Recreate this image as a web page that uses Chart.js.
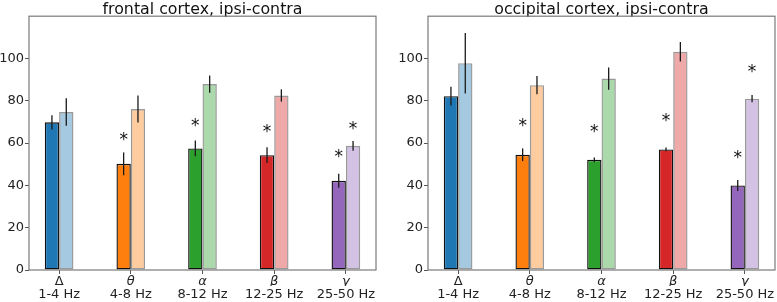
<!DOCTYPE html>
<html><head><meta charset="utf-8">
<script src="https://cdn.jsdelivr.net/npm/chart.js@4"></script>
<style>
body{margin:0;background:#fff;width:777px;height:302px;overflow:hidden;position:relative}
canvas{position:absolute;top:0}
</style></head>
<body>
<canvas id="c1" width="385" height="302" style="left:0"></canvas>
<canvas id="c2" width="392" height="302" style="left:385px"></canvas>
<script>
// ---- data ----
const greek = ['Δ', 'θ', 'α', 'β', 'γ'];
const bands = ['1-4 Hz', '4-8 Hz', '8-12 Hz', '12-25 Hz', '25-50 Hz'];
const xPositions = [0, 1, 2, 3, 4];
const yTicks = [0, 20, 40, 60, 80, 100];

const frontalIpsi = [69.8, 50.2, 57.5, 54.3, 42.2];
const frontalIpsiErr = [3.4, 5.4, 3.7, 3.7, 3.3];
const frontalContra = [74.7, 76.1, 87.9, 82.5, 58.7];
const frontalContraErr = [6.5, 6.4, 4.1, 2.9, 2.3];
const frontalStarIpsi = [null, 63.1, 69.9, 66.9, 55.0];
const frontalStarContra = [null, null, null, null, 68.2];

const occipitalIpsi = [82.2, 54.5, 52.1, 57.0, 40.0];
const occipitalIpsiErr = [4.4, 3.0, 1.1, 0.9, 2.6];
const occipitalContra = [97.8, 87.4, 90.5, 103.2, 81.0];
const occipitalContraErr = [14.3, 4.3, 5.3, 4.6, 1.7];
const occipitalStarIpsi = [null, 69.6, 66.9, 72.1, 54.8];
const occipitalStarContra = [null, null, null, null, 95.1];

const colors = ['#1f77b4', '#ff7f0e', '#2ca02c', '#d62728', '#9467bd'];

// ---- helpers ----
function rgba(hex, a) {
  const n = parseInt(hex.slice(1), 16);
  return `rgba(${(n >> 16) & 255},${(n >> 8) & 255},${n & 255},${a})`;
}
const FONT = 'DejaVu Sans';

const extrasPlugin = {
  id: 'extras',
  afterDatasetsDraw(chart, args, opts) {
    const ctx = chart.ctx;
    const y = chart.scales.y;
    ctx.save();
    // error bars
    chart.data.datasets.forEach((ds, di) => {
      const meta = chart.getDatasetMeta(di);
      const errs = opts.errs[di];
      meta.data.forEach((el, i) => {
        const v = ds.data[i].y;
        const e = errs[i];
        ctx.beginPath();
        ctx.strokeStyle = '#1a1a1a';
        ctx.lineWidth = 1.3;
        ctx.moveTo(el.x, y.getPixelForValue(v + e));
        ctx.lineTo(el.x, y.getPixelForValue(v - e));
        ctx.stroke();
      });
    });
    // significance stars
    ctx.font = `17px "${FONT}"`;
    ctx.fillStyle = '#111';
    ctx.textAlign = 'center';
    ctx.textBaseline = 'alphabetic';
    const m = ctx.measureText('*');
    const off = (m.actualBoundingBoxAscent - m.actualBoundingBoxDescent) / 2;
    chart.data.datasets.forEach((ds, di) => {
      const meta = chart.getDatasetMeta(di);
      const stars = opts.stars[di];
      meta.data.forEach((el, i) => {
        if (stars[i] == null) return;
        ctx.fillText('*', el.x, y.getPixelForValue(stars[i]) + off);
      });
    });
    // frame
    const a = chart.chartArea;
    ctx.strokeStyle = '#7a7a7a';
    ctx.lineWidth = 1.2;
    ctx.strokeRect(a.left, a.top, a.right - a.left, a.bottom - a.top);
    ctx.restore();
  }
};

function makeChart(id, title, ipsi, ipsiErr, contra, contraErr, starI, starC, yWidth, padRight) {
  const tickFix = s => { s.ticks = xPositions.map(v => ({ value: v })); };
  return new Chart(document.getElementById(id), {
    type: 'bar',
    data: {
      datasets: [
        {
          data: xPositions.map((x, i) => ({ x, y: ipsi[i] })),
          backgroundColor: colors,
          borderColor: '#111',
          borderWidth: 1.4,
          borderSkipped: false,
          categoryPercentage: 0.4,
          barPercentage: 1.0,
          xAxisID: 'x'
        },
        {
          data: xPositions.map((x, i) => ({ x, y: contra[i] })),
          backgroundColor: colors.map(c => rgba(c, 0.4)),
          borderColor: 'rgba(0,0,0,0.4)',
          borderWidth: 1.4,
          borderSkipped: false,
          categoryPercentage: 0.4,
          barPercentage: 1.0,
          xAxisID: 'x'
        }
      ]
    },
    options: {
      responsive: false,
      animation: false,
      layout: { padding: { left: 0, right: padRight, top: 0, bottom: 0 } },
      plugins: {
        legend: { display: false },
        tooltip: { enabled: false },
        title: {
          display: true, text: title, fullSize: false,
          color: '#111',
          font: { family: FONT, size: 15.8, weight: 'normal', lineHeight: 13 / 15.8 },
          padding: { top: 3.2, bottom: 0 }
        },
        extras: { errs: [ipsiErr, contraErr], stars: [starI, starC] }
      },
      scales: {
        x: {
          type: 'linear', position: 'bottom', min: -0.42, max: 4.42, offset: false,
          afterBuildTicks: tickFix,
          afterFit: s => { s.height = 16; },
          grid: { display: true, drawOnChartArea: false, drawTicks: true, tickLength: 4, color: '#555', lineWidth: 1, offset: false },
          border: { display: false },
          ticks: {
            autoSkip: false, maxRotation: 0, padding: 0, color: '#222',
            callback: (v, i) => greek[i],
            font: ctx => ({ family: FONT, size: 13, style: ctx.index === 0 ? 'normal' : 'italic', lineHeight: 1.15 })
          }
        },
        xHz: {
          type: 'linear', position: 'bottom', min: -0.42, max: 4.42, offset: false,
          afterBuildTicks: tickFix,
          afterFit: s => { s.height = 16; },
          grid: { display: false, drawTicks: false, tickLength: 0 },
          border: { display: false },
          ticks: {
            autoSkip: false, maxRotation: 0, padding: 1.5, color: '#222',
            callback: (v, i) => bands[i],
            font: { family: FONT, size: 13, lineHeight: 1.15 }
          }
        },
        y: {
          min: 0, max: 120,
          afterBuildTicks: s => { s.ticks = yTicks.map(v => ({ value: v })); },
          afterFit: s => { s.width = yWidth; },
          grid: { display: true, drawOnChartArea: false, drawTicks: true, tickLength: 4, color: '#555' },
          border: { display: false },
          ticks: { padding: 1, color: '#222', font: { family: FONT, size: 13 } }
        }
      }
    },
    plugins: [extrasPlugin]
  });
}

makeChart('c1', 'frontal cortex, ipsi-contra', frontalIpsi, frontalIpsiErr, frontalContra, frontalContraErr,
  frontalStarIpsi, frontalStarContra, 29, 9);
makeChart('c2', 'occipital cortex, ipsi-contra', occipitalIpsi, occipitalIpsiErr, occipitalContra, occipitalContraErr,
  occipitalStarIpsi, occipitalStarContra, 43, 2);
</script>
</body></html>
